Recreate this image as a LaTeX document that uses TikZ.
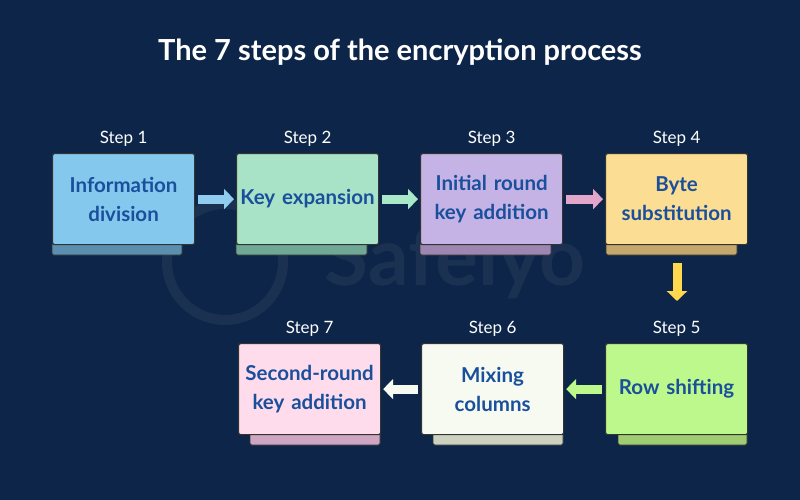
\documentclass[tikz,border=0pt]{standalone}
\usepackage{fontspec}
\setmainfont{Lato}
\usetikzlibrary{arrows.meta}
\definecolor{bg}{HTML}{0C2548}
\definecolor{txt}{HTML}{1A4F9C}
\definecolor{b1}{HTML}{5A8FB0}\definecolor{b2}{HTML}{6FA895}\definecolor{b3}{HTML}{9E86B3}
\definecolor{b4}{HTML}{C4A76A}\definecolor{b5}{HTML}{A0CC72}\definecolor{b6}{HTML}{CDD1C0}\definecolor{b7}{HTML}{CFA6C1}
\definecolor{f1}{HTML}{85C8EE}\definecolor{f2}{HTML}{A8E3C8}\definecolor{f3}{HTML}{C5B3E6}
\definecolor{f4}{HTML}{FBDD94}\definecolor{f5}{HTML}{BDF88C}\definecolor{f6}{HTML}{F6FAF0}\definecolor{f7}{HTML}{FEDCEC}
\definecolor{a1}{HTML}{8FCCEE}\definecolor{a2}{HTML}{A8E8C8}\definecolor{a3}{HTML}{E3A6CB}\definecolor{a4}{HTML}{FFD84D}
\begin{document}
\begin{tikzpicture}[x=1pt,y=-1pt,
  stepbox/.style={draw=black!80,line width=1.2pt,rounded corners=2pt,minimum width=142pt,minimum height=91pt,anchor=north west,inner sep=0pt,align=center,text=txt,font=\fontsize{20.5}{29}\selectfont\bfseries,text width=142pt},
  bar/.style={draw=black!80,line width=0.8pt,rounded corners=1.5pt},
  steplab/.style={text=white,font=\fontsize{17}{19}\selectfont},
  flow/.style={line width=9pt,-{Triangle[width=20pt,length=10pt]}}]
\fill[bg] (0,0) rectangle (800,500);
\useasboundingbox (0,0) rectangle (800,500);
\node[text=white,opacity=0.06,font=\fontsize{80}{80}\selectfont\bfseries] (wm) at (455,262) {Safelyo};
\draw[white,opacity=0.06,line width=10pt] (225,262) circle (58);
\node[text=white,font=\fontsize{29}{32}\selectfont\bfseries] (title) at (400,52) {The 7 steps of the encryption process};
\draw[bar,fill=b1] (52,243) rectangle (182,255);
\draw[bar,fill=b2] (236,243) rectangle (367,255);
\draw[bar,fill=b3] (420,243) rectangle (551,255);
\draw[bar,fill=b4] (606,243) rectangle (737,255);
\draw[bar,fill=b5] (618,433) rectangle (747,445);
\draw[bar,fill=b6] (433,433) rectangle (563,445);
\draw[bar,fill=b7] (250,433) rectangle (380,445);
\node[stepbox,fill=f1] (s1) at (52,153) {Information\\division};
\node[stepbox,fill=f2] (s2) at (236,153) {Key expansion};
\node[stepbox,fill=f3] (s3) at (420,153) {Initial round\\key addition};
\node[stepbox,fill=f4] (s4) at (605,153) {Byte\\substitution};
\node[stepbox,fill=f5] (s5) at (605,343) {Row shifting};
\node[stepbox,fill=f6] (s6) at (421,343) {Mixing\\columns};
\node[stepbox,fill=f7] (s7) at (238,343) {Second-round\\key addition};
\foreach \i in {1,...,7}{\node[steplab,above=3pt] (l\i) at (s\i.north) {Step \i};}
\draw[flow,a1] ([xshift=3pt]s1.east) -- ([xshift=-2pt]s2.west);
\draw[flow,a2] ([xshift=3pt]s2.east) -- ([xshift=-2pt]s3.west);
\draw[flow,a3] ([xshift=3pt]s3.east) -- ([xshift=-2pt]s4.west);
\coordinate (d1) at (677,263); \coordinate (d2) at (677,301);
\draw[flow,a4] (d1) -- (d2);
\draw[flow,f5] ([xshift=-3pt]s5.west) -- ([xshift=2pt]s6.east);
\draw[flow,f6] ([xshift=-3pt]s6.west) -- ([xshift=2pt]s7.east);
\end{tikzpicture}
\end{document}
